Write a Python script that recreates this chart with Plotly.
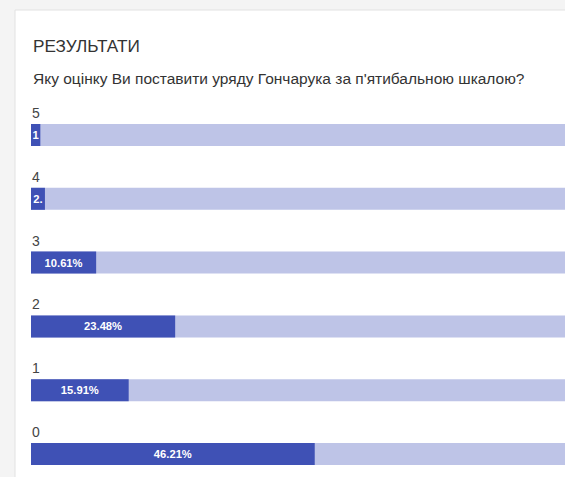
import plotly.graph_objects as go

# Data
categories = ["5", "4", "3", "2", "1", "0"]
positions = [5, 4, 3, 2, 1, 0]
percent = [1.52, 2.27, 10.61, 23.48, 15.91, 46.21]
bar_labels = ["1", "2.", "10.61%", "23.48%", "15.91%", "46.21%"]
full_scale = [100, 100, 100, 100, 100, 100]
title_text = "РЕЗУЛЬТАТИ"
question_text = "Яку оцінку Ви поставити уряду Гончарука за п'ятибальною шкалою?"

W, H = 565, 477
ML, MR, MT, MB = 31, 0, 100, 1
plot_w = W - ML - MR
plot_h = H - MT - MB
pitch = 63.8
y_top = 5 + (135 - MT) / pitch
y_bot = y_top - plot_h / pitch
x_max = 100 * plot_w / 614.0

FONT = "Liberation Sans"
DARK = "#3f51b5"
LIGHT = "#bec4e7"


def py(px):
    return 1 - (px - MT) / plot_h


def px_(px):
    return (px - ML) / plot_w


fig = go.Figure()
fig.add_trace(go.Bar(
    x=full_scale, y=positions, orientation="h", width=0.345,
    marker=dict(color=LIGHT, line=dict(width=0)), hoverinfo="skip",
    showlegend=False,
))
fig.add_trace(go.Bar(
    x=percent, y=positions, orientation="h", width=0.345,
    marker=dict(color=DARK, line=dict(width=0)),
    text=bar_labels, textposition="inside", insidetextanchor="middle",
    constraintext="none",
    textfont=dict(family=FONT, size=11.2, color="white", weight="bold"),
    hoverinfo="skip", showlegend=False,
))

annotations = [
    dict(text=title_text, x=px_(31), y=py(45.5), xref="paper", yref="paper",
         xanchor="left", yanchor="middle", showarrow=False,
         font=dict(family=FONT, size=17.2, color="#333333")),
    dict(text=question_text, x=px_(31), y=py(79), xref="paper", yref="paper",
         xanchor="left", yanchor="middle", showarrow=False,
         font=dict(family=FONT, size=15.5, color="#333333")),
]
for cat, pos in zip(categories, positions):
    annotations.append(dict(
        text=cat, x=px_(30), y=pos, xref="paper", yref="y",
        xanchor="left", yanchor="middle", yshift=22, showarrow=False,
        font=dict(family=FONT, size=14, color="#444444"),
    ))

fig.update_layout(
    width=W, height=H,
    margin=dict(l=ML, r=MR, t=MT, b=MB, pad=0),
    paper_bgcolor="#f4f4f4", plot_bgcolor="white",
    barmode="overlay",
    xaxis=dict(range=[0, x_max], visible=False, fixedrange=True),
    yaxis=dict(range=[y_bot, y_top], visible=False, fixedrange=True),
    annotations=annotations,
    shapes=[dict(type="rect", xref="paper", yref="paper",
                 x0=px_(15), x1=1.2, y0=-0.2, y1=py(10),
                 fillcolor="white", line=dict(color="#e2e2e2", width=1),
                 layer="below")],
)

fig.write_html(
    "out.html",
    config={"displayModeBar": False},
    post_script="document.body.style.margin='0';document.body.style.overflow='hidden';",
)
